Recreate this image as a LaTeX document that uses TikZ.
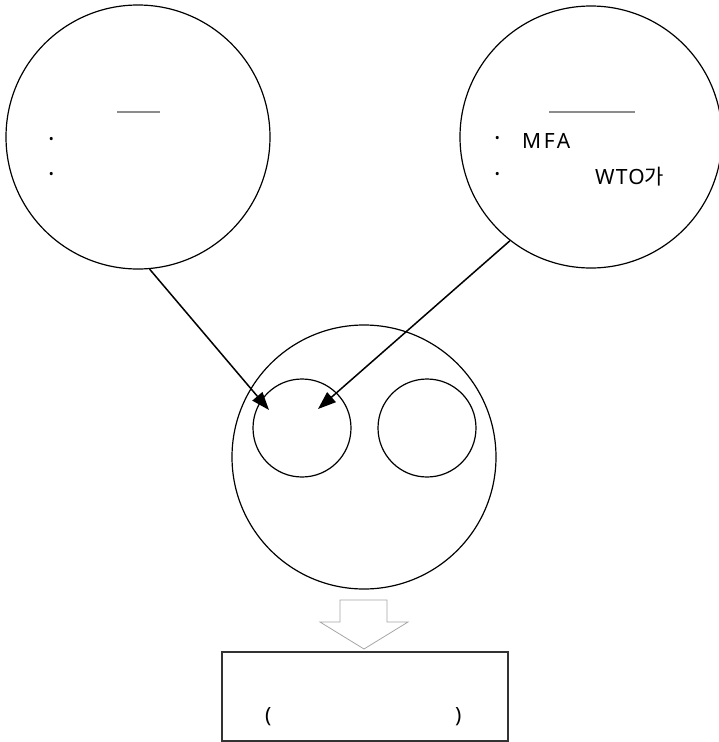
\documentclass[tikz,border=0pt]{standalone}
\usepackage{fontspec}
\setmainfont{Noto Sans}
\newfontfamily\krfont{Noto Sans CJK KR}
\usetikzlibrary{arrows.meta}
\begin{document}
\begin{tikzpicture}[x=1pt,y=-1pt,
  bigc/.style={draw=black,line width=1.2pt,circle,inner sep=0pt},
  conn/.style={line width=1.5pt,-{Triangle[length=18pt,width=13pt]}},
  lbl/.style={font=\fontsize{21}{24}\selectfont,inner sep=0pt,anchor=west},
  dotlbl/.style={font=\fontsize{24}{24}\selectfont\bfseries,inner sep=0pt,anchor=west},
  uline/.style={draw=gray!90,line width=1.4pt}]
\useasboundingbox (0,0) rectangle (719,742);
\fill[white] (0,0) rectangle (719,742);
% circles
\node[bigc,minimum size=264pt] (L) at (138,137) {};
\node[bigc,minimum size=262pt] (R) at (591,137) {};
\node[bigc,minimum size=264pt] (M) at (364,457) {};
\node[bigc,minimum size=98pt] (MA) at (302,428) {};
\node[bigc,minimum size=98pt] (MB) at (427,428) {};
% underlines
\draw[uline] (117,112) -- (160,112);
\draw[uline] (549,112) -- (635,112);
% texts
\node[dotlbl] (l1) at (48,142) {·};
\node[dotlbl] (l2) at (48,177) {·};
\node[dotlbl] (r1) at (494,141) {·};
\node[lbl,font=\fontsize{21}{24}\selectfont\addfontfeature{LetterSpace=12}] (r1b) at (522,141) {MFA};
\node[dotlbl] (r2) at (494,177) {·};
\node[lbl,font=\fontsize{21}{24}\selectfont\addfontfeature{LetterSpace=6}] (r2b) at (595,177) {WTO{\krfont 가}};
% connectors
\coordinate (t1) at (269,410);
\coordinate (t2) at (318,409);
\draw[conn] (L.-85) -- (t1);
\draw[conn] (R.232) -- (t2);
% block arrow
\draw[gray!70,line width=0.8pt,fill=white] (340,600) -- (387,600) -- (387,622) -- (408,622) -- (364,649) -- (320,622) -- (340,622) -- cycle;
% result box
\node[draw=black!80,line width=1.2pt,minimum width=286pt,minimum height=89pt,inner sep=0pt] (B) at (365,696.5) {};
\node[lbl] (p1) at (265,717) {(};
\node[lbl] (p2) at (455,717) {)};
\end{tikzpicture}
\end{document}
